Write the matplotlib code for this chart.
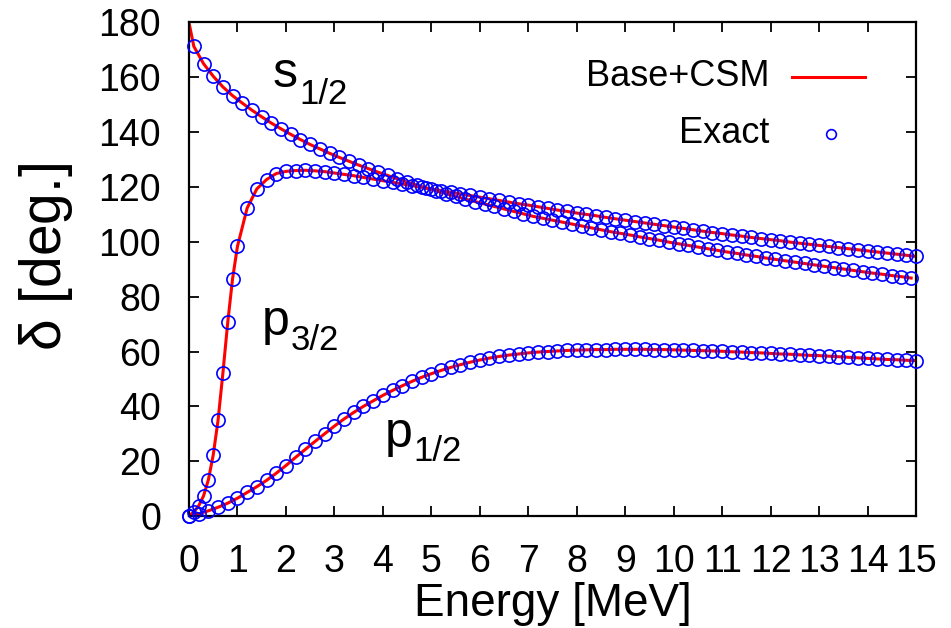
import numpy as np
import matplotlib
matplotlib.use("Agg")
import matplotlib.pyplot as plt
from matplotlib.lines import Line2D

plt.rcParams['font.family'] = ['Liberation Sans', 'DejaVu Sans']
plt.rcParams['mathtext.fontset'] = 'custom'
plt.rcParams['mathtext.rm'] = 'Liberation Sans'
plt.rcParams['mathtext.it'] = 'Liberation Sans'

# energy grids [MeV]
e_p32 = [0.0, 0.1, 0.2, 0.3, 0.4, 0.5, 0.6, 0.7, 0.8, 0.9, 1.0] + \
    [round(1.2 + 0.2 * i, 1) for i in range(70)]
e_p12 = [round(0.2 * i, 1) for i in range(76)]
e_s12 = [round(0.1 + 0.2 * i, 1) for i in range(75)]

# phase shifts [deg.]
d_p32 = [0.0, 1.5, 3.7, 7.3, 13.2, 22.2, 34.9, 52.1, 70.6, 86.6, 98.3,
         112.3, 119.3, 122.7, 124.9, 125.7, 126.0, 126.1, 125.9, 125.6, 125.1,
         124.6, 124.1, 123.5, 122.9, 122.3, 121.7, 121.1, 120.5, 119.9, 119.3,
         118.7, 118.1, 117.5, 116.9, 116.3, 115.7, 115.1, 114.5, 113.9, 113.4,
         112.8, 112.2, 111.6, 111.1, 110.5, 110.0, 109.5, 108.9, 108.4, 107.9,
         107.4, 106.9, 106.4, 105.9, 105.4, 104.9, 104.4, 103.9, 103.4, 103.0,
         102.5, 102.1, 101.6, 101.2, 100.8, 100.4, 99.9, 99.5, 99.1, 98.7,
         98.3, 97.9, 97.5, 97.1, 96.7, 96.3, 95.9, 95.5, 95.1, 94.7]
d_p12 = [0.0, 0.8, 1.9, 3.2, 4.7, 6.5, 8.6, 10.7, 13.0, 15.6,
         18.4, 21.4, 24.3, 27.2, 30.0, 32.8, 35.4, 37.8, 40.0, 42.0,
         44.0, 45.8, 47.5, 49.1, 50.6, 51.9, 53.1, 54.2, 55.2, 56.1,
         56.9, 57.6, 58.2, 58.7, 59.1, 59.5, 59.8, 60.0, 60.2, 60.4,
         60.5, 60.6, 60.7, 60.7, 60.8, 60.8, 60.8, 60.8, 60.7, 60.7,
         60.6, 60.5, 60.4, 60.3, 60.2, 60.1, 59.9, 59.8, 59.6, 59.5,
         59.3, 59.1, 59.0, 58.8, 58.6, 58.5, 58.3, 58.1, 57.9, 57.7,
         57.5, 57.3, 57.1, 57.0, 56.8, 56.7]
d_s12 = [171.3, 165.0, 160.4, 156.5, 153.3, 150.6, 148.0, 145.6, 143.3, 141.2,
         139.2, 137.3, 135.5, 133.9, 132.3, 130.8, 129.4, 128.0, 126.7, 125.4,
         124.2, 123.0, 121.8, 120.7, 119.6, 118.6, 117.6, 116.6, 115.6, 114.7,
         113.8, 112.9, 112.0, 111.1, 110.2, 109.3, 108.6, 107.9, 107.2, 106.5,
         105.8, 105.1, 104.4, 103.7, 103.1, 102.5, 101.8, 101.2, 100.6, 99.9,
         99.3, 98.7, 98.1, 97.5, 96.9, 96.3, 95.8, 95.2, 94.7, 94.1,
         93.6, 93.1, 92.6, 92.1, 91.6, 91.1, 90.6, 90.1, 89.6, 89.1,
         88.6, 88.2, 87.7, 87.3, 86.8]
# s-wave phase at threshold
s12_zero = 180.0

xticks = list(range(0, 16))
yticks = list(range(0, 181, 20))

fig = plt.figure(figsize=(9.51, 6.28), dpi=100)
ax = fig.add_axes([0.1987, 0.1783, 0.7645, 0.7859])

red = '#ff0000'
blue = '#0000ff'

# Base+CSM curves
ax.plot([0.0] + e_s12, [s12_zero] + d_s12, color=red, lw=2.2, zorder=2)
ax.plot(e_p32, d_p32, color=red, lw=2.2, zorder=2)
ax.plot(e_p12, d_p12, color=red, lw=2.2, zorder=2)

# exact results
for e, d in [(e_s12, d_s12), (e_p32, d_p32), (e_p12, d_p12)]:
    ax.plot(e, d, ls='none', marker='o', ms=9.5, mfc='none', mec=blue,
            mew=1.2, zorder=3, clip_on=False)

ax.set_xlim(0, 15)
ax.set_ylim(0, 180)
ax.set_xticks(xticks)
ax.set_yticks(yticks)
ax.tick_params(direction='in', length=7, width=1.3, top=True, right=True,
               labelsize=27)
ax.tick_params(axis='x', pad=20)
ax.tick_params(axis='y', pad=20)
for sp in ax.spines.values():
    sp.set_linewidth(1.6)

ax.set_xlabel('Energy [MeV]', fontsize=33)
ax.xaxis.set_label_coords(0.5, -0.178)
ax.xaxis.label.set_va('center')
ax.set_ylabel(r'$\mathregular{\delta}$ [deg.]', fontsize=41)
ax.yaxis.set_label_coords(-0.196, 0.525)
ax.yaxis.label.set_va('center')


def channel_label(x, y, letter, sub, dx, drop):
    # letter with a lowered j subscript, enhanced-text style
    ax.text(x, y, letter, fontsize=36)
    ax.annotate(sub, (x, y), xytext=(dx, -drop), textcoords='offset points',
                fontsize=25)


channel_label(1.72, 156.3, 's', '1/2', 19.5, 12)
channel_label(1.50, 66.1, 'p', '3/2', 21, 11)
channel_label(4.03, 25.2, 'p', '1/2', 21, 10)

# key, gnuplot style: right-justified text, sample to its right
ax.text(0.798, 0.890, 'Base+CSM', transform=ax.transAxes, ha='right',
        va='center', fontsize=26)
ax.add_line(Line2D([0.83, 0.93], [0.890, 0.890], transform=ax.transAxes,
                   color=red, lw=2.2))
ax.text(0.798, 0.775, 'Exact', transform=ax.transAxes, ha='right',
        va='center', fontsize=26)
ax.add_line(Line2D([0.883], [0.775], transform=ax.transAxes, ls='none',
                   marker='o', ms=7, mfc='none', mec=blue, mew=1.2))

fig.savefig('out.png', dpi=100)
